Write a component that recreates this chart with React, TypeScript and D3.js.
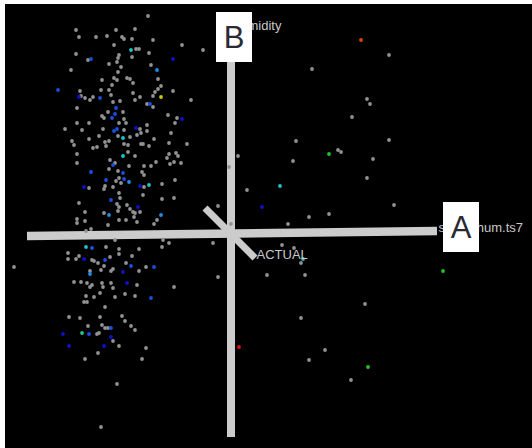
import React, { useEffect, useRef } from "react";
import * as d3 from "d3";

// projected scores (tour view), gray = unclassified cases
const grayPoints: [number, number][] = [
  [-0.83, 2.18], [-1.55, 2.04], [-1.52, 1.97], [-1.35, 1.97], [-1.24, 1.98], [-1.15, 2.04], [-1.09, 1.97], [-1.07, 1.95],
  [-0.96, 2.05], [-0.99, 1.95], [-0.78, 1.94], [-1.17, 1.89], [-0.49, 1.89], [-0.95, 1.85], [-0.92, 1.85], [-0.82, 1.81],
  [-1.55, 1.8], [-1.43, 1.74], [-1.12, 1.79], [-1.13, 1.76], [-1.14, 1.72], [-0.99, 1.77], [-1.22, 1.7], [-1.1, 1.67],
  [-0.8, 1.69], [-1.6, 1.64], [-1.13, 1.62], [-1.17, 1.56], [-1.04, 1.56], [-1.01, 1.55], [-0.98, 1.51], [-1.29, 1.54],
  [-0.73, 1.55], [-1.19, 1.49], [-1.14, 1.54], [-0.7, 1.48], [-0.73, 1.45], [-0.76, 1.42], [-0.78, 1.38], [-0.58, 1.43],
  [-1.3, 1.44], [-1.22, 1.44], [-1.51, 1.43], [-0.98, 1.41], [-1.2, 1.39], [-1.5, 1.38], [-1.46, 1.36], [-1.41, 1.34],
  [-1.38, 1.37], [-1.18, 1.32], [-1.11, 1.33], [-0.96, 1.34], [-0.91, 1.37], [-0.4, 1.34], [-0.84, 1.3], [-0.78, 1.27],
  [-1.54, 1.26], [-1.23, 1.22], [-1.08, 1.22], [-0.63, 1.19], [-0.54, 1.16], [-1.29, 1.18], [-1.27, 1.16], [-1.07, 1.15],
  [-1.05, 1.11], [-1.54, 1.11], [-1.42, 1.11], [-1.12, 1.11], [-0.56, 1.11], [-0.84, 1.09], [-0.91, 1.05], [-1.66, 1.05],
  [-1.49, 1.04], [-1.28, 1.05], [-1.07, 1.04], [-0.94, 0.99], [-0.9, 1.01], [-0.84, 1.03], [-0.6, 1.01], [-1.32, 0.98],
  [-1.13, 0.98], [-1.01, 0.97], [-1.42, 0.95], [-1.59, 0.93], [-1.57, 0.89], [-1.26, 0.92], [-1.22, 0.93], [-1.25, 0.88],
  [-1.07, 0.9], [-1.03, 0.89], [-0.9, 0.9], [-0.88, 0.9], [-0.82, 0.88], [-0.77, 0.95], [-0.62, 0.91], [-0.44, 0.9],
  [-1.38, 0.86], [-1.34, 0.87], [-1.54, 0.8], [-1.54, 0.71], [-0.96, 0.78], [-1.03, 0.82], [-0.62, 0.8], [-0.55, 0.81],
  [-0.53, 0.78], [-0.5, 0.71], [-0.57, 0.72], [-0.61, 0.7], [-0.64, 0.76], [-1.21, 0.74], [-1.22, 0.65], [-1.16, 0.71],
  [-1.02, 0.68], [-0.87, 0.68], [-0.8, 0.68], [-0.89, 0.62], [-0.87, 0.59], [-0.75, 0.72], [-1.13, 0.63], [-1.12, 0.56],
  [-1.15, 0.53], [-1.1, 0.51], [-1.26, 0.48], [-1.27, 0.45], [-1.18, 0.47], [-1.42, 0.46], [-0.87, 0.47], [-0.69, 0.5],
  [-0.56, 0.54], [-1.12, 0.41], [-0.88, 0.39], [-1.11, 0.36], [-0.57, 0.36], [-0.69, 0.35], [-1.52, 0.31], [-1.14, 0.3],
  [-1.12, 0.27], [-1.13, 0.23], [-1.04, 0.29], [-1.27, 0.21], [-1.01, 0.25], [-0.98, 0.22], [-0.96, 0.21], [-0.91, 0.22],
  [-1.46, 0.22], [-0.74, 0.14], [-0.77, 0.1], [-1.54, 0.15], [-1.54, 0.11], [-1.46, 0.13], [-1.12, 0.14], [-1.05, 0.14],
  [-0.97, 0.17], [-1.23, 0.09], [-0.94, 0.12], [-1.4, 0.05], [-1.45, 0.03], [-1.16, -0.06], [-0.68, -0.06], [-0.62, -0.09],
  [-0.69, -0.13], [-1.25, -0.13], [-1.12, -0.15], [-0.92, -0.15], [-1.63, -0.19], [-1.63, -0.25], [-1.55, -0.25], [-1.52, -0.22],
  [-1.39, -0.26], [-1.37, -0.27], [-1.21, -0.23], [-1.12, -0.2], [-1.05, -0.29], [-0.99, -0.22], [-1.33, -0.29], [-1.27, -0.32],
  [-0.85, -0.33], [-1.3, -0.36], [-1.2, -0.37], [-1.18, -0.35], [-1.41, -0.37], [-0.92, -0.37], [-1.57, -0.48], [-1.5, -0.48],
  [-1.44, -0.49], [-1.39, -0.51], [-1.41, -0.53], [-1.29, -0.49], [-1.28, -0.53], [-1.2, -0.49], [-1.18, -0.54], [-0.94, -0.51],
  [-0.57, -0.53], [-2.17, -0.33], [-1.45, -0.62], [-1.37, -0.63], [-1.31, -0.59], [-1.16, -0.63], [-1.06, -0.6], [-0.96, -0.62],
  [-1.47, -0.68], [-1.44, -0.68], [-1.26, -0.73], [-1.62, -0.83], [-1.51, -0.84], [-1.31, -0.83], [-1.09, -0.82], [-1.06, -0.87],
  [-1.43, -0.92], [-1.29, -0.91], [-1.26, -0.94], [-1.23, -0.94], [-1.0, -0.92], [-0.96, -0.96], [-1.34, -1.0], [-1.32, -0.99],
  [-1.18, -1.07], [-1.12, -1.12], [-0.85, -1.14], [-1.33, -1.19], [-1.46, -1.25], [-0.89, -1.25], [-1.14, -1.5], [-1.3, -1.93],
  [-0.28, 1.84], [0.81, 1.65], [1.58, 1.79], [1.36, 1.35], [1.39, 1.3], [1.21, 1.17], [1.58, 0.94], [1.07, 0.84],
  [1.1, 0.82], [1.42, 0.75], [1.36, 0.56], [0.65, 0.93], [0.07, 0.78], [-0.02, 0.67], [0.62, 0.73], [0.16, 0.44],
  [-0.13, 0.28], [0.78, 0.17], [0.98, 0.2], [1.63, 0.29], [0.57, 0.1], [0.0, 0.1], [-0.18, -0.09], [0.51, -0.11],
  [0.63, -0.14], [0.7, -0.29], [0.36, -0.41], [0.74, -0.41], [-0.13, -0.43], [1.34, -0.7], [0.7, -0.84], [0.94, -1.16],
  [0.78, -1.26], [1.2, -1.46],
];

const darkBluePoints: [number, number][] = [
  [-0.58, 1.75], [-1.52, 1.37], [-0.49, 1.15], [-0.95, 1.06], [-1.47, 0.47], [-0.91, 0.48], [-0.93, 0.27], [-1.47, -0.25],
  [-1.08, -0.38], [-1.04, -0.49], [-1.68, -1.0], [-1.2, -1.03], [-1.62, -1.12], [-1.27, -1.12], [0.31, 0.27],
];
const bluePoints: [number, number][] = [
  [-1.4, 1.75], [-1.73, 1.44], [-1.31, 1.36], [-0.81, 1.3], [-1.15, 1.26], [-1.16, 1.2], [-1.19, 1.16], [-1.14, 1.05],
  [-1.17, 1.03], [-1.18, 0.69], [-1.4, 0.62], [-1.08, 0.61], [-1.25, 0.54], [-1.07, 0.55], [-1.2, 0.34], [-1.39, -0.14],
  [-1.26, -0.26], [-1.0, -0.32], [-0.77, -0.33], [-0.8, -0.64], [-1.2, -0.94], [-1.42, -1.0],
];
const lightBluePoints: [number, number][] = [
  [-0.74, 1.64], [-1.02, 0.52], [-1.22, 0.19], [-0.7, 0.19], [-1.41, -0.4],
];
const cyanPoints: [number, number][] = [
  [-1.0, 1.84], [-1.08, 0.96], [-1.08, 0.78], [-0.82, 0.49], [-1.45, -0.13], [0.49, 0.48], [0.72, -0.25],
];
const yellowPoints: [number, number][] = [[-0.7, 1.37]];
const greenPoints: [number, number][] = [[0.98, 0.8], [2.12, -0.37], [1.37, -1.33]];
const tealPoints: [number, number][] = [[-1.49, -0.99]];
const redPoints: [number, number][] = [[0.08, -1.13]];
const orangePoints: [number, number][] = [[1.3, 1.94]];

// projection axes drawn through the origin
const axisNames = ["sfc.rel.hum.ts7", "humidity", "ACTUAL"];
const axisFrom: [number, number][] = [[-2.04, -0.02], [0.0, 2.04], [-0.26, 0.26]];
const axisTo: [number, number][] = [[2.06, 0.03], [0.0, -2.03], [0.24, -0.24]];

export default function App() {
  const ref = useRef<SVGSVGElement | null>(null);

  useEffect(() => {
    const width = 532;
    const height = 448;
    const svg = d3.select(ref.current);
    svg.selectAll("*").remove();

    const x = d3.scaleLinear().domain([-1, 1]).range([131, 331]);
    const y = d3.scaleLinear().domain([-1, 1]).range([334, 134]);

    svg.append("rect").attr("width", width).attr("height", height).attr("fill", "#ffffff");
    svg.append("rect").attr("x", 5).attr("y", 4).attr("width", width - 5).attr("height", height - 4).attr("fill", "#000000");

    const widths = [8.5, 8, 7];
    svg
      .selectAll("line.axis")
      .data(axisNames)
      .join("line")
      .attr("class", "axis")
      .attr("x1", (_, i) => x(axisFrom[i][0]))
      .attr("y1", (_, i) => y(axisFrom[i][1]))
      .attr("x2", (_, i) => x(axisTo[i][0]))
      .attr("y2", (_, i) => y(axisTo[i][1]))
      .attr("stroke", "#cccccc")
      .attr("stroke-width", (_, i) => widths[i]);

    const groups = [
      { points: grayPoints, color: "#929292" },
      { points: darkBluePoints, color: "#1010cc" },
      { points: bluePoints, color: "#1a4fe6" },
      { points: lightBluePoints, color: "#1e8ee6" },
      { points: cyanPoints, color: "#1fc4cc" },
      { points: yellowPoints, color: "#c8c800" },
      { points: greenPoints, color: "#1ec81e" },
      { points: tealPoints, color: "#1ec88c" },
      { points: redPoints, color: "#e01010" },
      { points: orangePoints, color: "#e0400a" },
    ];

    groups.forEach((g) => {
      svg
        .append("g")
        .selectAll("circle")
        .data(g.points)
        .join("circle")
        .attr("cx", (d) => x(d[0]))
        .attr("cy", (d) => y(d[1]))
        .attr("r", 1.9)
        .attr("fill", g.color);
    });

    const labelStyle = (t: d3.Selection<SVGTextElement, unknown, null, undefined>) =>
      t.attr("font-family", "'Liberation Sans', Arial, sans-serif").attr("font-size", 13).attr("fill", "#c8c8c8");

    // A axis label (end aligned), humidity, ACTUAL
    svg.append("text").attr("x", x(axisTo[0][0]) + 86).attr("y", y(axisTo[0][1]) + 1)
      .attr("text-anchor", "end").text(axisNames[0]).call(labelStyle);
    svg.append("text").attr("x", x(axisFrom[1][0]) + 2).attr("y", y(axisFrom[1][1]) - 0.5)
      .text(axisNames[1]).call(labelStyle);
    svg.append("text").attr("x", x(axisTo[2][0]) + 1.5).attr("y", y(axisTo[2][1]) + 1)
      .text(axisNames[2]).call(labelStyle);

    // annotation boxes
    const boxes = [
      { label: "B", cx: x(axisFrom[1][0]) + 3, cy: y(axisFrom[1][1]) + 7 },
      { label: "A", cx: x(axisTo[0][0]) + 24, cy: y(axisTo[0][1]) - 4 },
    ];
    const bg = svg.append("g").selectAll("g").data(boxes).join("g");
    bg.append("rect")
      .attr("x", (d) => d.cx - 18)
      .attr("y", (d) => d.cy - 25)
      .attr("width", 36)
      .attr("height", 50)
      .attr("fill", "#ffffff");
    bg.append("text")
      .attr("x", (d) => d.cx)
      .attr("y", (d) => d.cy + 11)
      .attr("text-anchor", "middle")
      .attr("font-family", "'Liberation Sans', Arial, sans-serif")
      .attr("font-size", 31)
      .attr("fill", "#2a2a35")
      .text((d) => d.label);
  }, []);

  return (
    <div>
      <style>{"body{margin:0}"}</style>
      <svg ref={ref} width={532} height={448} style={{ display: "block" }}></svg>
    </div>
  );
}
